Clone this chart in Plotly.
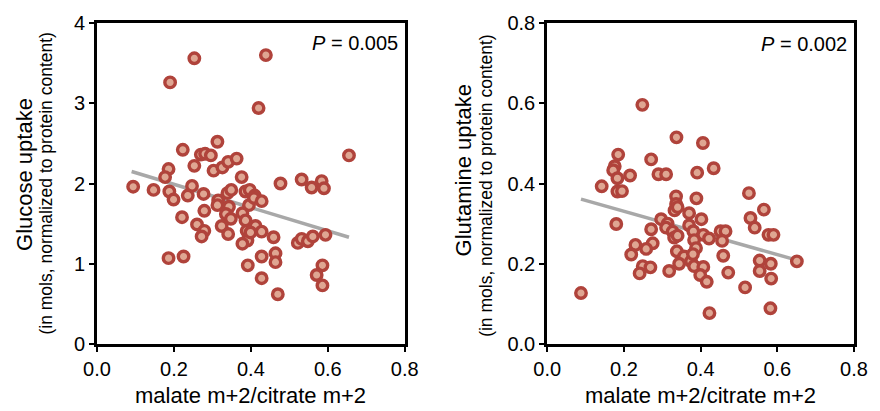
import plotly.graph_objects as go

# ---- data ----
glc_x = [0.253,0.439,0.190,0.420,0.655,0.313,0.223,0.270,0.281,0.296,0.186,0.253,0.303,0.326,0.341,0.363,0.376,0.177,0.094,0.147,
         0.188,0.199,0.247,0.236,0.277,0.315,0.339,0.349,0.313,0.343,0.335,0.348,0.386,0.397,0.410,0.395,0.378,0.386,0.389,0.391,
         0.378,0.279,0.221,0.260,0.279,0.272,0.324,0.341,0.186,0.225,0.392,0.477,0.532,0.558,0.584,0.590,0.408,0.428,0.412,0.428,
         0.399,0.459,0.428,0.464,0.464,0.428,0.470,0.522,0.532,0.548,0.561,0.594,0.586,0.571,0.586]
glc_y = [3.56,3.60,3.26,2.94,2.35,2.52,2.42,2.36,2.37,2.35,2.18,2.22,2.16,2.20,2.27,2.31,2.08,2.08,1.96,1.92,
         1.90,1.80,1.97,1.85,1.87,1.79,1.88,1.92,1.73,1.71,1.62,1.56,1.90,1.92,1.85,1.73,1.63,1.54,1.41,1.29,
         1.25,1.66,1.58,1.49,1.41,1.34,1.47,1.37,1.07,1.09,0.98,2.00,2.05,1.95,2.03,1.94,1.82,1.78,1.47,1.40,
         1.39,1.33,1.09,1.13,1.02,0.82,0.62,1.26,1.31,1.28,1.34,1.36,0.98,0.86,0.73]

gln_x = [0.248,0.337,0.406,0.434,0.185,0.271,0.176,0.172,0.183,0.216,0.290,0.310,0.391,0.142,0.183,0.195,0.336,0.389,0.336,0.332,
         0.340,0.370,0.180,0.297,0.314,0.310,0.327,0.331,0.340,0.271,0.402,0.370,0.381,0.407,0.383,0.388,0.275,0.258,0.230,0.219,
         0.338,0.357,0.375,0.344,0.249,0.269,0.241,0.318,0.383,0.407,0.399,0.416,0.088,0.423,0.582,0.516,0.651,0.526,0.565,0.530,
         0.541,0.577,0.590,0.554,0.554,0.583,0.584,0.472,0.452,0.465,0.456,0.459,0.422,0.380]
gln_y = [0.596,0.515,0.501,0.438,0.472,0.460,0.443,0.433,0.413,0.420,0.423,0.423,0.427,0.393,0.380,0.381,0.368,0.363,0.349,0.333,
         0.341,0.326,0.299,0.311,0.300,0.290,0.280,0.265,0.270,0.286,0.311,0.296,0.281,0.272,0.259,0.239,0.251,0.237,0.247,0.223,
         0.231,0.218,0.206,0.200,0.194,0.191,0.176,0.182,0.194,0.192,0.172,0.155,0.127,0.077,0.089,0.141,0.206,0.376,0.335,0.314,
         0.290,0.272,0.272,0.208,0.182,0.200,0.163,0.178,0.281,0.281,0.257,0.220,0.263,0.224]

glc_fit_x = [0.090, 0.655]
glc_fit_y = [2.15, 1.33]
gln_fit_x = [0.088, 0.651]
gln_fit_y = [0.361, 0.209]

x_ticks = [0.0, 0.2, 0.4, 0.6, 0.8]
glc_ticks = [0, 1, 2, 3, 4]
gln_ticks = [0.0, 0.2, 0.4, 0.6, 0.8]

x_title = "malate m+2/citrate m+2"
glc_title = "Glucose uptake"
gln_title = "Glutamine uptake"
sub_title = "(in mols, normalized to protein content)"
glc_p = "<i>P</i> = 0.005"
gln_p = "<i>P</i> = 0.002"

# ---- styling ----
FONT = "Liberation Sans, Arial, sans-serif"
EDGE = "#b0433b"
FILL = "#dfa692"
LINE = "#a8a8a8"

W, H = 880, 411
L, R, T, B = 97, 18, 17, 67
PW = W - L - R
PH = H - T - B

def px_x(p):
    return (p - L) / PW

def px_y(p):
    return (H - B - p) / PH

fig = go.Figure()

marker = dict(size=10.5, color=FILL, line=dict(color=EDGE, width=3.4), opacity=1)

fig.add_trace(go.Scatter(x=glc_fit_x, y=glc_fit_y, mode="lines",
                         line=dict(color=LINE, width=3.5), xaxis="x", yaxis="y", showlegend=False, hoverinfo="skip"))
fig.add_trace(go.Scatter(x=glc_x, y=glc_y, mode="markers", marker=marker,
                         xaxis="x", yaxis="y", showlegend=False))
fig.add_trace(go.Scatter(x=gln_fit_x, y=gln_fit_y, mode="lines",
                         line=dict(color=LINE, width=3.5), xaxis="x2", yaxis="y2", showlegend=False, hoverinfo="skip"))
fig.add_trace(go.Scatter(x=gln_x, y=gln_y, mode="markers", marker=marker,
                         xaxis="x2", yaxis="y2", showlegend=False))

axis_common = dict(showline=True, linecolor="black", linewidth=3, mirror=True,
                   ticks="outside", ticklen=5, tickwidth=2, tickcolor="black",
                   showgrid=False, zeroline=False,
                   tickfont=dict(family=FONT, size=20, color="black"))

fig.update_layout(
    width=W, height=H,
    margin=dict(l=L, r=R, t=T, b=B),
    paper_bgcolor="white", plot_bgcolor="white",
    font=dict(family=FONT, color="black"),
    xaxis=dict(domain=[0, px_x(408)], range=[0, 0.8], tickvals=x_ticks, tickformat=".1f",
               anchor="y", **axis_common),
    yaxis=dict(domain=[0, 1], range=[0, 4], tickvals=glc_ticks, tickformat="d",
               anchor="x", **axis_common),
    xaxis2=dict(domain=[px_x(552), 1], range=[0, 0.8], tickvals=x_ticks, tickformat=".1f",
                anchor="y2", **axis_common),
    yaxis2=dict(domain=[0, 1], range=[0, 0.8], tickvals=gln_ticks, tickformat=".1f",
                anchor="x2", **axis_common),
)

ann = []
# x titles
for xr in ["x domain", "x2 domain"]:
    ann.append(dict(text=x_title, xref=xr, yref="paper", x=0.5, y=px_y(396),
                    xanchor="center", yanchor="middle", showarrow=False,
                    font=dict(family=FONT, size=22, color="black")))
# y titles
for txt, xp, yp, sz in [(glc_title, 23, 171, 22), (sub_title, 45, 180, 17.5),
                        (gln_title, 467, 167, 22), (sub_title, 490, 182, 17.5)]:
    ann.append(dict(text=txt, xref="paper", yref="paper", x=px_x(xp), y=px_y(yp),
                    xanchor="center", yanchor="middle", textangle=-90, showarrow=False,
                    font=dict(family=FONT, size=sz, color="black")))
# P values
ann.append(dict(text=glc_p, xref="x domain", yref="y domain", x=0.985, y=px_y(37),
                xanchor="right", yanchor="middle", showarrow=False,
                font=dict(family=FONT, size=20, color="black")))
ann.append(dict(text=gln_p, xref="x2 domain", yref="y2 domain", x=0.985, y=px_y(38),
                xanchor="right", yanchor="middle", showarrow=False,
                font=dict(family=FONT, size=20, color="black")))
fig.update_layout(annotations=ann)

fig.write_html("out.html", config={"displayModeBar": False},
               post_script="document.body.style.margin='0';document.body.style.padding='0';document.body.style.overflow='hidden';")
